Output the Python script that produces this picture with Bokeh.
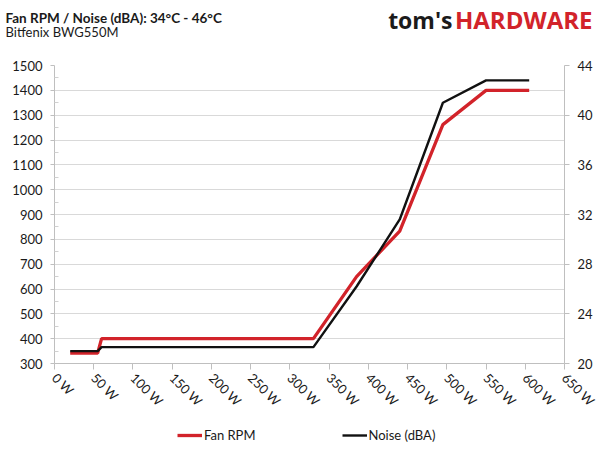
import math
from bokeh.plotting import figure
from bokeh.layouts import column
from bokeh.models import (Range1d, LinearAxis, FixedTicker, PrintfTickFormatter,
                          Label, Legend, LegendItem)
from bokeh.embed import file_html
from bokeh.resources import INLINE

# ---- data ----
watts = [20, 55, 60, 330, 385, 440, 495, 550, 605]
fan_rpm = [342, 342, 400, 400, 650, 833, 1262, 1400, 1400]
noise_dba = [21.0, 21.0, 21.32, 21.32, 26.2, 31.6, 41.0, 42.8, 42.8]

x_ticks = list(range(0, 651, 50))
rpm_ticks = list(range(300, 1501, 100))
rpm_minor = list(range(350, 1500, 100))
db_ticks = list(range(20, 45, 4))

title_text = "Fan RPM / Noise (dBA): 34°C - 46°C"
subtitle_text = "Bitfenix BWG550M"
series_names = ["Fan RPM", "Noise (dBA)"]

RED = "#d2232a"
BLACK = "#111111"
FONT = "Lato"
TXT = "#1a1a1a"
W = 600


def blank(height):
    f = figure(width=W, height=height, output_backend="svg", toolbar_location=None,
               x_axis_location=None, y_axis_location=None,
               min_border_left=0, min_border_right=0, min_border_top=0,
               min_border_bottom=0, x_range=Range1d(0, 1), y_range=Range1d(0, 1))
    f.outline_line_color = None
    f.grid.visible = False
    f.frame_align = False
    return f


# ---------------- header ----------------
HH = 50
header = blank(HH)


def lab(fig, x, y_from_top, text, **kw):
    fig.add_layout(Label(x=x, y=HH - y_from_top, x_units="screen", y_units="screen",
                         text=text, text_baseline="alphabetic", **kw))


lab(header, 5, 17.5, title_text, text_font=FONT, text_font_size="13.5px",
    text_font_style="bold", text_color=TXT)
lab(header, 5, 31, subtitle_text, text_font=FONT, text_font_size="13px",
    text_color=TXT)
lab(header, 452, 19, "tom's", text_font="Open Sans", text_font_size="23px",
    text_font_style="bold", text_color="#1b1b1b", text_align="right")
lab(header, 592, 19, "HARDWARE", text_font="Open Sans", text_font_size="24px",
    text_font_style="bold", text_color=RED, text_align="right")

# ---------------- main chart ----------------
p = figure(width=W, height=370, output_backend="svg", toolbar_location=None,
           x_range=Range1d(0, 650), y_range=Range1d(300, 1500),
           min_border_left=54, min_border_right=36, min_border_top=15,
           min_border_bottom=57)
p.outline_line_color = None
p.frame_align = False
p.extra_y_ranges = {"db": Range1d(20, 44)}

p.xgrid.grid_line_color = None
p.ygrid.grid_line_color = "#d9d9d9"
p.ygrid.grid_line_width = 1

xa = p.xaxis[0]
xa.ticker = FixedTicker(ticks=x_ticks)
xa.formatter = PrintfTickFormatter(format="%d W")
xa.major_label_orientation = -math.pi / 4
xa.axis_line_color = "#bfbfbf"
xa.major_tick_line_color = "#bfbfbf"
xa.major_tick_out = 6
xa.major_tick_in = 0
xa.minor_tick_line_color = None
xa.major_label_text_font = FONT
xa.major_label_text_font_size = "13px"
xa.major_label_text_color = TXT
xa.major_label_standoff = 6

ya = p.yaxis[0]
ya.ticker = FixedTicker(ticks=rpm_ticks, minor_ticks=rpm_minor)
ya.axis_line_color = "#bfbfbf"
ya.major_tick_line_color = "#bfbfbf"
ya.major_tick_out = 4
ya.major_tick_in = 0
ya.minor_tick_line_color = "#d0d0d0"
ya.minor_tick_in = 4
ya.minor_tick_out = 0
ya.major_label_text_font = FONT
ya.major_label_text_font_size = "13px"
ya.major_label_text_color = TXT
ya.major_label_standoff = 8

ra = LinearAxis(y_range_name="db", ticker=FixedTicker(ticks=db_ticks))
ra.axis_line_color = "#bfbfbf"
ra.major_tick_line_color = "#bfbfbf"
ra.major_tick_out = 5
ra.major_tick_in = 0
ra.minor_tick_line_color = None
ra.major_label_text_font = FONT
ra.major_label_text_font_size = "13px"
ra.major_label_text_color = TXT
ra.major_label_standoff = 8
p.add_layout(ra, "right")

p.line(watts, fan_rpm, line_color=RED, line_width=3.3)
p.line(watts, noise_dba, line_color=BLACK, line_width=2.4, y_range_name="db")

# ---------------- legend strip ----------------
footer = blank(30)
# same series, out of this strip's view; only their legend swatches show
lf = footer.line(watts, fan_rpm, line_color=RED, line_width=3.3)
ln = footer.line(watts, noise_dba, line_color=BLACK, line_width=2.4)
legend = Legend(items=[LegendItem(label=series_names[0], renderers=[lf]),
                       LegendItem(label=series_names[1], renderers=[ln])],
                orientation="horizontal", location=(177, 7))
legend.border_line_color = None
legend.background_fill_alpha = 0
legend.label_text_font = FONT
legend.label_text_font_size = "13px"
legend.label_text_color = TXT
legend.glyph_width = 25
legend.glyph_height = 14
legend.label_height = 14
legend.label_standoff = 2
legend.spacing = 86
legend.padding = 0
legend.margin = 0
footer.add_layout(legend, "center")

layout = column(header, p, footer, spacing=0)
open("out.html", "w").write(file_html(layout, INLINE))
